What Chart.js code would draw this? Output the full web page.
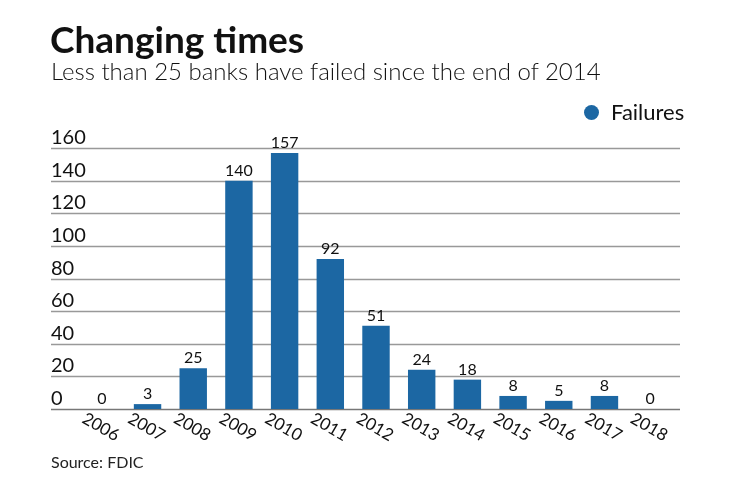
<!DOCTYPE html>
<html>
<head>
<meta charset="utf-8">
<script src="https://cdn.jsdelivr.net/npm/chart.js@4"></script>
<style>
  body { margin: 0; background: #fff; font-family: Lato, "Open Sans", sans-serif; }
  #wrap { position: relative; width: 740px; height: 482px; }
  #chart { position: absolute; left: 0; top: 0; }
  .title { position: absolute; left: 50px; top: 17px; font-size: 37px; font-weight: bold; color: #111; line-height: 1.2; }
  .sub { position: absolute; left: 51px; top: 57px; font-size: 24px; color: #111; font-weight: 300; line-height: 1.2; }
  .legend { position: absolute; left: 584px; top: 99px; font-size: 22px; color: #111; line-height: 1.2; }
  .legend span.dot { display: inline-block; width: 15px; height: 15px; border-radius: 50%; background: #1c67a3; margin-right: 12px; vertical-align: 0px; }
  .source { position: absolute; left: 51px; top: 452px; font-size: 16px; color: #222; line-height: 1.2; }
</style>
</head>
<body>
<div id="wrap">
  <canvas id="chart" width="740" height="482"></canvas>
  <div class="title">Changing times</div>
  <div class="sub">Less than 25 banks have failed since the end of 2014</div>
  <div class="legend"><span class="dot"></span>Failures</div>
  <div class="source">Source: FDIC</div>
</div>
<script>
const years = ['2006','2007','2008','2009','2010','2011','2012','2013','2014','2015','2016','2017','2018'];
const failures = [0, 3, 25, 140, 157, 92, 51, 24, 18, 8, 5, 8, 0];
const yTicks = [0, 20, 40, 60, 80, 100, 120, 140, 160];

const barColor = '#1c67a3';

// grid lines, y labels, value labels and slanted year labels
const decor = {
    id: 'decor',
    beforeDatasetsDraw(chart) {
        const {ctx, scales: {y}} = chart;
        ctx.save();
        yTicks.forEach(t => {
            const py = Math.round(y.getPixelForValue(t)) + 0.5;
            ctx.strokeStyle = t === 0 ? '#777' : '#999';
            ctx.lineWidth = 1.5;
            ctx.beginPath();
            ctx.moveTo(51, py);
            ctx.lineTo(680, py);
            ctx.stroke();
            ctx.fillStyle = '#111';
            ctx.font = '20px Lato, sans-serif';
            ctx.textAlign = 'left';
            ctx.textBaseline = 'alphabetic';
            ctx.fillText(String(t), 51, py - 5);
        });
        ctx.restore();
    },
    afterDatasetsDraw(chart) {
        const {ctx, scales: {x}} = chart;
        const meta = chart.getDatasetMeta(0);
        ctx.save();
        ctx.fillStyle = '#111';
        ctx.font = '16px Lato, sans-serif';
        ctx.textAlign = 'center';
        ctx.textBaseline = 'alphabetic';
        meta.data.forEach((bar, i) => {
            ctx.fillText(String(failures[i]), bar.x, bar.y - 5);
        });
        ctx.font = '17px Lato, sans-serif';
        years.forEach((yr, i) => {
            const px = x.getPixelForValue(i);
            ctx.save();
            ctx.translate(px - 1, 427);
            ctx.rotate(30 * Math.PI / 180);
            ctx.textBaseline = 'middle';
            ctx.fillText(yr, 0, 0);
            ctx.restore();
        });
        ctx.restore();
    }
};

new Chart(document.getElementById('chart'), {
    type: 'bar',
    data: {
        labels: years,
        datasets: [{
            label: 'Failures',
            data: failures,
            backgroundColor: barColor,
            barPercentage: 0.6,
            categoryPercentage: 1
        }]
    },
    options: {
        responsive: false,
        animation: false,
        layout: { padding: { left: 79, right: 67, top: 148, bottom: 73 } },
        plugins: { legend: { display: false }, tooltip: { enabled: false } },
        scales: {
            x: { display: false },
            y: { display: false, min: 0, max: 160 }
        }
    },
    plugins: [decor]
});
</script>
</body>
</html>
